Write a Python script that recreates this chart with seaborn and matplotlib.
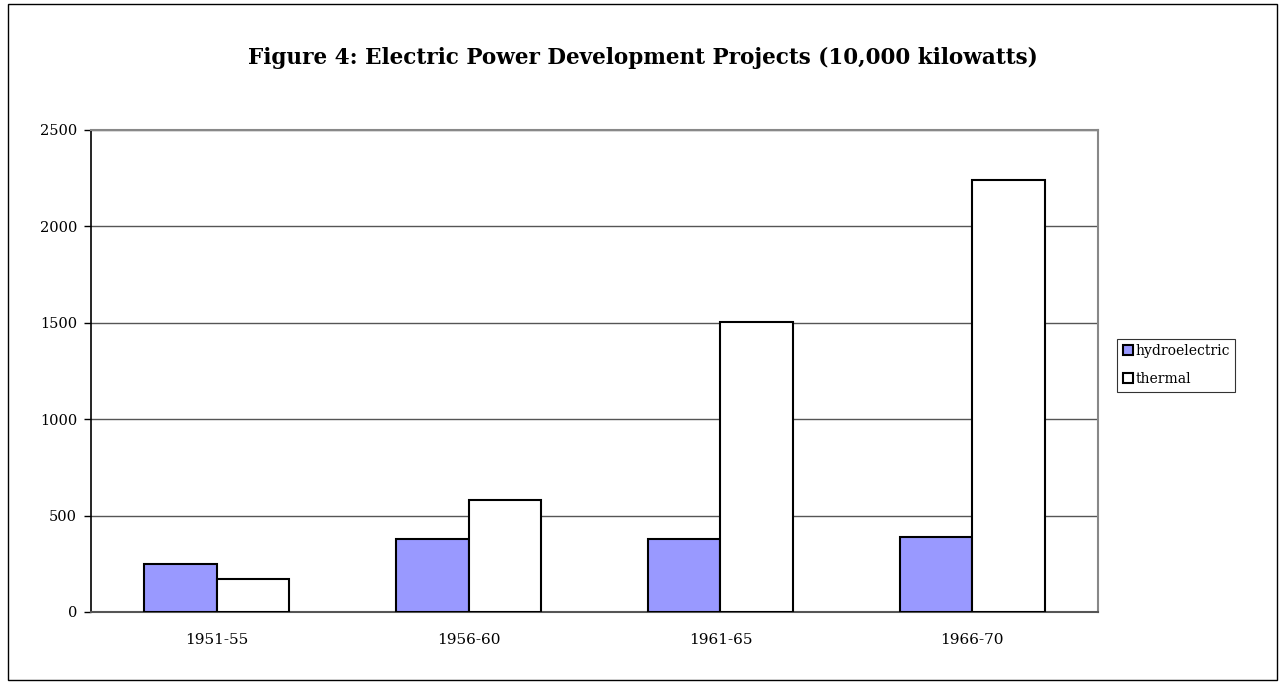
import pandas as pd
import seaborn as sns
import matplotlib.pyplot as plt
from matplotlib.ticker import FixedLocator
from matplotlib.patches import Rectangle

# Chart data
periods = ['1951-55', '1956-60', '1961-65', '1966-70']
hydroelectric = [247, 381, 376, 388]
thermal = [173, 581, 1505, 2240]
series_names = ['hydroelectric', 'thermal']
colors = ['#9999FF', '#FFFFFF']
y_ticks = [0, 500, 1000, 1500, 2000, 2500]

df = pd.DataFrame({'period': periods, 'hydroelectric': hydroelectric, 'thermal': thermal})
df_long = pd.melt(df, id_vars=['period'], value_vars=series_names, var_name='type', value_name='kw')

sns.set_style('white')
plt.rcParams['font.family'] = ['DejaVu Serif']
plt.rcParams['text.color'] = 'black'
plt.rcParams['xtick.labelcolor'] = 'black'
plt.rcParams['ytick.labelcolor'] = 'black'

fig = plt.figure(figsize=(12.85, 6.83), dpi=100)
ax = fig.add_axes([0.0708, 0.104, 0.7837, 0.7057])

sns.barplot(data=df_long, x='period', y='kw', hue='type', hue_order=series_names,
            palette=colors, width=0.576, edgecolor='black', linewidth=1.5,
            saturation=1, ax=ax, zorder=3)

ax.set_xlim(-0.5, 3.5)
ax.set_ylim(0, 2500)
ax.set_yticks(y_ticks)
ax.set_yticklabels([str(v) for v in y_ticks], fontsize=10.5)
ax.yaxis.grid(True, color='#555555', linewidth=1, zorder=0)
ax.set_axisbelow(True)
ax.set_xlabel('')
ax.set_ylabel('')

# category boundaries as tick marks, labels centred under groups
ax.xaxis.set_minor_locator(FixedLocator([-0.5, 0.5, 1.5, 2.5, 3.5]))
ax.tick_params(axis='x', which='major', length=0, pad=15, labelsize=11)
ax.tick_params(axis='x', which='minor', direction='inout', length=10, width=1, color='#555555')
ax.tick_params(axis='y', which='major', direction='out', length=5, width=1, color='black', left=True, pad=5)

for side in ['top', 'right']:
    ax.spines[side].set_color('#888888')
    ax.spines[side].set_linewidth(1.5)
ax.spines['bottom'].set_color('#555555')
ax.spines['bottom'].set_linewidth(1.5)
ax.spines['left'].set_color('black')
ax.spines['left'].set_linewidth(1.2)

leg = ax.legend(title=None, loc='center left', bbox_to_anchor=(1.019, 0.512),
                fontsize=10, frameon=True, fancybox=False, edgecolor='black',
                handlelength=0.75, handleheight=0.75, handletextpad=0.15,
                borderpad=0.4, borderaxespad=0, labelspacing=1.0)
leg.get_frame().set_linewidth(0.8)

fig.suptitle('Figure 4: Electric Power Development Projects (10,000 kilowatts)',
             x=0.5, y=0.932, fontsize=15.5, fontweight='bold', color='black')

# outer border of the chart
fig.patches.append(Rectangle((0.006, 0.004), 0.988, 0.99, transform=fig.transFigure,
                             fill=False, edgecolor='black', linewidth=1))

fig.savefig('out.png', dpi=100)
